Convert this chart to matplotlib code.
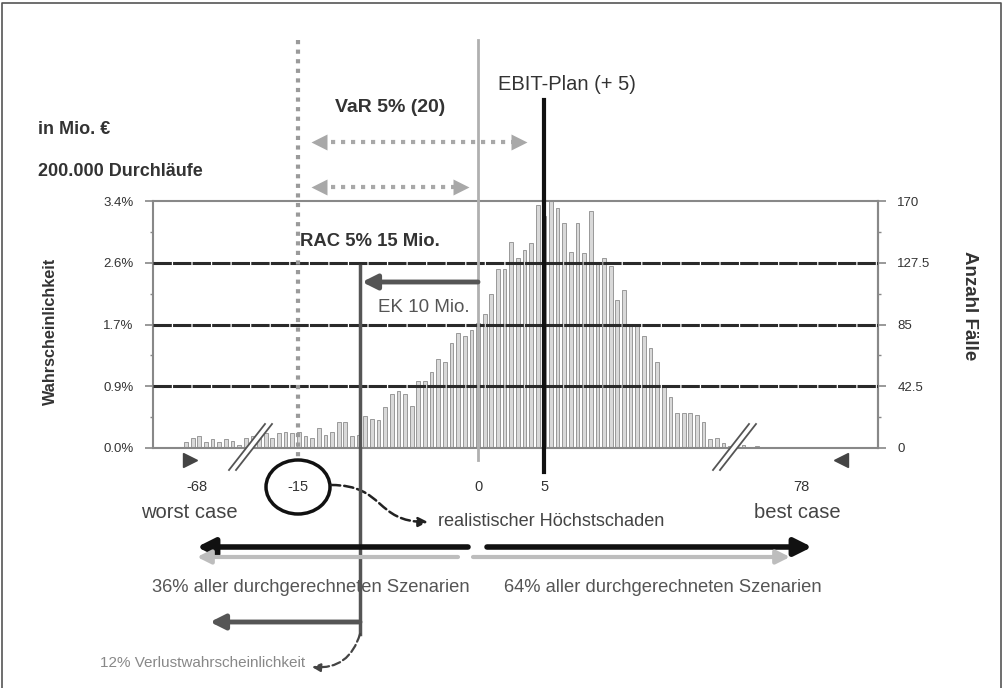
import numpy as np
import matplotlib
matplotlib.use("Agg")
import matplotlib.pyplot as plt
from matplotlib.patches import Ellipse, Polygon, FancyArrowPatch
from matplotlib.path import Path
from matplotlib.transforms import blended_transform_factory

plt.rcParams['font.family'] = ['Liberation Sans', 'DejaVu Sans']

# Klassen (Mio. EUR, Schrittweite 0,5) und Anzahl Fälle je Klasse
bins = np.arange(-22, 23, 0.5)
counts = [4, 7, 8, 4, 6, 4, 6, 5, 2, 7, 8, 9, 10, 7, 10, 11, 10, 11, 8, 7,
          14, 9, 11, 18, 18, 8, 9, 22, 20, 19, 28, 37, 39, 37, 29, 46, 46, 52, 61, 59,
          72, 79, 77, 81, 86, 92, 106, 123, 123, 142, 131, 136, 141, 167, 160, 170, 165, 155, 135, 155,
          134, 163, 128, 131, 125, 102, 109, 84, 84, 77, 69, 59, 42.5, 35, 24, 24, 24, 23, 18, 6,
          7, 3.5, 1.5, 1, 2, 1, 1.5, 0.5, 1, 0.5]

# Achsenbeschriftungen
y_ticks = [0, 42.5, 85, 127.5, 170]
y_minor = [21.25, 63.75, 106.25, 148.75]
y_labels_left = ['0.0%', '0.9%', '1.7%', '2.6%', '3.4%']
y_labels_right = ['0', '42.5', '85', '127.5', '170']
grid_levels = [42.5, 85, 127.5]

# Markierungen unter der x-Achse (Position im Diagramm, Beschriftung)
mark_pos = [-21.2, -13.6, 0, 5, 24.4]
mark_labels = ['-68', '-15', '0', '5', '78']
var_pos = -13.6   # VaR-Linie (-15)
plan_pos = 5      # EBIT-Plan
zero_pos = 0
rac_pos = -8.9    # RAC-Linie

fig = plt.figure(figsize=(10.04, 6.88), dpi=100)
W, H = 1004, 688
ax = fig.add_axes([153 / W, (H - 448) / H, 725 / W, 247 / H])
ax.bar(bins, counts, width=0.28, color='#d9d9d9', edgecolor='#8c8c8c', linewidth=0.6, zorder=2)
ax.set_xlim(-24.49, 30.14)
ax.set_ylim(0, 170)
for g in grid_levels:
    ax.axhline(g, color='#2a2a2a', lw=2.2, ls=(0, (6, 0.4)), zorder=3)
ax.set_xticks([])
ax.set_yticks(y_ticks)
ax.set_yticklabels(y_labels_left, fontsize=9.5, color='#333')
ax.set_yticks(y_minor, minor=True)
ax.tick_params(axis='y', which='major', length=6, width=1.2, color='#888', pad=8)
ax.tick_params(axis='y', which='minor', length=2.5, width=1, color='#888')
for s in ax.spines.values():
    s.set_color('#888')
    s.set_linewidth(1.5)
sec = ax.secondary_yaxis('right')
sec.set_yticks(y_ticks)
sec.set_yticklabels(y_labels_right, fontsize=9.5, color='#333')
sec.set_yticks(y_minor, minor=True)
sec.tick_params(axis='y', which='major', length=6, width=1.2, color='#888', pad=8)
sec.tick_params(axis='y', which='minor', length=2.5, width=1, color='#888')
sec.spines['right'].set_color('#888')
sec.spines['right'].set_linewidth(1.5)

# Overlay in Pixelkoordinaten fuer Beschriftungen und Pfeile
ov = fig.add_axes([0, 0, 1, 1], zorder=5)
ov.set_xlim(0, W)
ov.set_ylim(H, 0)
ov.axis('off')
ov.patch.set_alpha(0)
bt = blended_transform_factory(ax.transData, ov.transData)

# Rahmen (unten abgeschnitten)
ov.plot([2, 2, 1001, 1001], [H, 3, 3, H], color='#555', lw=1.2)

# vertikale Linien
ov.plot([var_pos, var_pos], [40, 458], transform=bt, color='#9a9a9a', lw=3,
        ls=(0, (1, 1.3)), dash_capstyle='butt')
ov.plot([zero_pos, zero_pos], [40, 460], transform=bt, color='#b0b0b0', lw=2)
ov.plot([plan_pos, plan_pos], [100, 472], transform=bt, color='#111', lw=3)
ov.plot([rac_pos, rac_pos], [266, 634], transform=bt, color='#555', lw=2.5)

# Texte oben
ov.text(38, 130, 'in Mio. €', fontsize=13, fontweight='bold', color='#333', va='center')
ov.text(38, 172, '200.000 Durchläufe', fontsize=13, fontweight='bold', color='#333', va='center')
ov.text(390, 107, 'VaR 5% (20)', fontsize=14, fontweight='bold', color='#333', ha='center', va='center')
ov.text(567, 85, 'EBIT-Plan (+ 5)', fontsize=14.5, color='#333', ha='center', va='center')
ov.text(300, 241, 'RAC 5% 15 Mio.', fontsize=13.3, fontweight='bold', color='#333', va='center')
ov.text(378, 307, 'EK 10 Mio.', fontsize=13.5, color='#555', va='center')
ov.text(50, 331, 'Wahrscheinlichkeit', fontsize=11.7, fontweight='bold', color='#333',
        rotation=90, ha='center', va='center')
ov.text(970, 306, 'Anzahl Fälle', fontsize=13.5, fontweight='bold', color='#333',
        rotation=270, ha='center', va='center')


def dotted_double(y, x1, x2):
    ov.plot([x1 + 8, x2 - 8], [y, y], color='#a8a8a8', lw=3, ls=(0, (1, 1.4)))
    ov.plot(x1 + 6, y, marker='<', ms=11, color='#a8a8a8', mec='none')
    ov.plot(x2 - 6, y, marker='>', ms=11, color='#a8a8a8', mec='none')


dotted_double(142, 313, 525)
dotted_double(187, 313, 467)


def arrow(x1, x2, y, color, lw, ms=22):
    ov.annotate('', xy=(x2, y), xytext=(x1, y),
                arrowprops=dict(arrowstyle='-|>', color=color, lw=lw, mutation_scale=ms,
                                shrinkA=0, shrinkB=0))


arrow(478, 362, 282, '#555', 3.5)
arrow(468, 197, 547, '#111', 4, 26)
arrow(487, 812, 547, '#111', 4, 26)
arrow(458, 197, 557, '#bdbdbd', 3, 20)
arrow(473, 790, 557, '#bdbdbd', 3, 20)
arrow(360, 210, 622, '#555', 3.5)

# Markierungen unter der Achse
for p, lab in zip(mark_pos, mark_labels):
    ov.text(p, 487, lab, transform=bt, fontsize=10.5, color='#333', ha='center', va='center')
ov.plot(190, 460, marker='>', ms=10, color='#444')
ov.plot(841, 460, marker='<', ms=10, color='#444')
ov.add_patch(Ellipse((298, 487), 64, 54, fill=False, ec='#111', lw=2.5))
ov.text(189, 512, 'worst case', fontsize=14.5, color='#444', ha='center', va='center')
ov.text(797, 512, 'best case', fontsize=14.5, color='#444', ha='center', va='center')
ov.text(438, 522, 'realistischer Höchstschaden', fontsize=13.1, color='#444', va='center')
ov.text(311, 587, '36% aller durchgerechneten Szenarien', fontsize=13.2, color='#555',
        ha='center', va='center')
ov.text(663, 587, '64% aller durchgerechneten Szenarien', fontsize=13.2, color='#555',
        ha='center', va='center')
ov.text(305, 663, '12% Verlustwahrscheinlichkeit', fontsize=11, color='#888',
        ha='right', va='center')

# gestrichelte Hinweispfeile (S-Kurve)
s_path = Path([(331, 485), (385, 485), (375, 522), (428, 522)],
              [Path.MOVETO, Path.CURVE4, Path.CURVE4, Path.CURVE4])
ov.add_patch(FancyArrowPatch(path=s_path, arrowstyle='-|>', color='#222', lw=1.8, ls='--',
                             mutation_scale=14))
ov.annotate('', xy=(312, 667), xytext=(360, 634),
            arrowprops=dict(arrowstyle='-|>', color='#444', lw=1.6, ls='--', mutation_scale=12,
                            connectionstyle='arc3,rad=-0.4', shrinkA=0, shrinkB=0))

# Achsenbruch
for x0 in (229, 713):
    ov.add_patch(Polygon([(x0, 470), (x0 + 36, 424), (x0 + 43, 424), (x0 + 7, 470)],
                         closed=True, fc='white', ec='none', zorder=4))
    ov.plot([x0, x0 + 36], [470, 424], color='#555', lw=1.3, zorder=5)
    ov.plot([x0 + 7, x0 + 43], [470, 424], color='#555', lw=1.3, zorder=5)

fig.savefig('out.png', dpi=100, facecolor='white')
